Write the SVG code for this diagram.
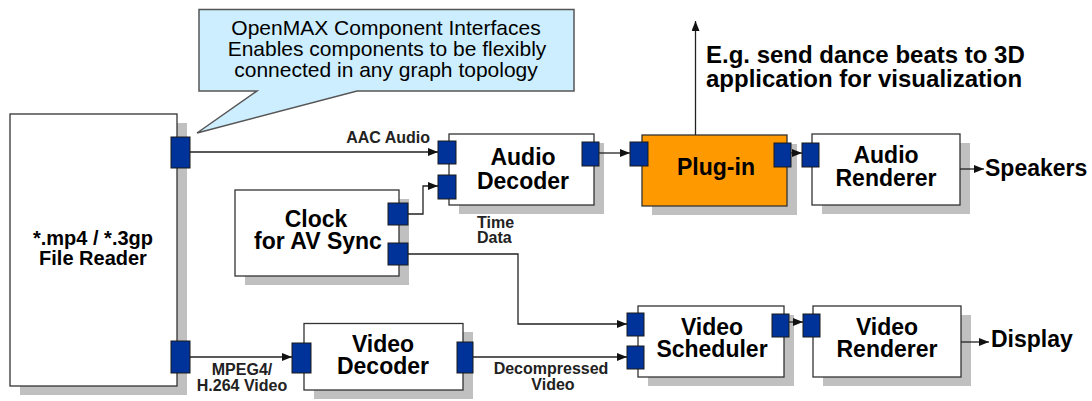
<svg xmlns="http://www.w3.org/2000/svg" width="1092" height="401" viewBox="0 0 1092 401">
<defs>
<marker id="ah" markerUnits="userSpaceOnUse" markerWidth="10" markerHeight="8" refX="10" refY="4" orient="auto">
<path d="M0,0 L10,4 L0,8 Z" fill="#111"/>
</marker>
</defs>
<style>
.box{fill:#fff;stroke:#333;stroke-width:1.3}
.sh{fill:#c0c0c0}
.port{fill:#003399;stroke:#1a1a1a;stroke-width:1}
.lbl{font-family:"Liberation Sans",Arial,sans-serif;font-weight:bold;font-size:23px;fill:#000;text-anchor:middle}
.big{font-family:"Liberation Sans",Arial,sans-serif;font-weight:bold;font-size:23px;fill:#000;text-anchor:start}
.sm{font-family:"Liberation Sans",Arial,sans-serif;font-weight:bold;font-size:16px;fill:#222}
.smc{font-family:"Liberation Sans",Arial,sans-serif;font-weight:bold;font-size:16px;fill:#222;text-anchor:middle}
.call{font-family:"Liberation Sans",Arial,sans-serif;font-size:21px;fill:#000;text-anchor:middle}
.cn{fill:none;stroke:#222;stroke-width:1.3}
</style>
<rect width="1092" height="401" fill="#fff"/>

<g id="callout">
<path d="M199,9.5 H574 V91 H357 L197,133 L257,91 H199 Z" fill="#cdeefe" stroke="#555" stroke-width="1.5"/>
<text class="call" x="386" y="35">OpenMAX Component Interfaces</text>
<text class="call" x="387" y="56">Enables components to be flexibly</text>
<text class="call" x="386" y="77">connected in any graph topology</text>
</g>

<g id="file-reader">
<rect class="sh" x="20" y="123" width="167" height="272"/>
<rect class="box" x="10" y="114" width="167" height="272"/>
<text class="lbl" style="font-size:20px" x="93" y="245">*.mp4 / *.3gp</text>
<text class="lbl" style="font-size:20px" x="93" y="265">File Reader</text>
<rect class="port" x="171" y="137" width="19" height="31"/>
<rect class="port" x="171" y="341" width="19" height="32"/>
</g>

<g id="audio-decoder">
<rect class="sh" x="459" y="143" width="145" height="71"/>
<rect class="box" x="449" y="134" width="145" height="71"/>
<text class="lbl" x="523" y="165">Audio</text>
<text class="lbl" x="523" y="189">Decoder</text>
<rect class="port" x="438" y="141" width="18" height="23"/>
<rect class="port" x="438" y="175" width="18" height="24"/>
<rect class="port" x="582" y="142" width="17" height="24"/>
</g>

<g id="plug-in">
<rect class="sh" x="652" y="144" width="145" height="71"/>
<rect class="box" x="642" y="135" width="145" height="71" style="fill:#ff9900"/>
<text class="lbl" x="716" y="175">Plug-in</text>
<rect class="port" x="630" y="142" width="18" height="24"/>
<rect class="port" x="774" y="143" width="17" height="24"/>
</g>

<g id="audio-renderer">
<rect class="sh" x="822" y="143" width="148" height="71"/>
<rect class="box" x="812" y="134" width="148" height="71"/>
<text class="lbl" x="886" y="163">Audio</text>
<text class="lbl" x="886" y="186">Renderer</text>
<rect class="port" x="802" y="143" width="17" height="24"/>
</g>

<g id="clock">
<rect class="sh" x="245" y="199" width="164" height="86"/>
<rect class="box" x="235" y="190" width="164" height="86"/>
<text class="lbl" x="316" y="227">Clock</text>
<text class="lbl" x="318" y="249">for AV Sync</text>
<rect class="port" x="388" y="203" width="20" height="22"/>
<rect class="port" x="388" y="243" width="20" height="22"/>
</g>

<g id="video-decoder">
<rect class="sh" x="314" y="332" width="159" height="67"/>
<rect class="box" x="304" y="323.5" width="159" height="66.5"/>
<text class="lbl" x="383" y="352">Video</text>
<text class="lbl" x="383" y="374">Decoder</text>
<rect class="port" x="292" y="343" width="19" height="30"/>
<rect class="port" x="457" y="342" width="16" height="31"/>
</g>

<g id="video-scheduler">
<rect class="sh" x="648" y="315" width="146" height="71"/>
<rect class="box" x="638" y="306" width="146" height="71"/>
<text class="lbl" x="712" y="335">Video</text>
<text class="lbl" x="712" y="357">Scheduler</text>
<rect class="port" x="627" y="313" width="17" height="23"/>
<rect class="port" x="627" y="346" width="17" height="23"/>
<rect class="port" x="772" y="314" width="17" height="23"/>
</g>

<g id="video-renderer">
<rect class="sh" x="823" y="315" width="148" height="71"/>
<rect class="box" x="813" y="306" width="148" height="71"/>
<text class="lbl" x="887" y="335">Video</text>
<text class="lbl" x="887" y="357">Renderer</text>
<rect class="port" x="803" y="314" width="17" height="23"/>
</g>

<g id="connectors">
<path class="cn" d="M190,152 H438" marker-end="url(#ah)"/>
<path class="cn" d="M599,153 H630" marker-end="url(#ah)"/>
<path class="cn" d="M791,153 H802" marker-end="url(#ah)"/>
<path class="cn" d="M960,169 H984" marker-end="url(#ah)"/>
<path class="cn" d="M695.5,135 V21" marker-end="url(#ah)"/>
<path class="cn" d="M408,214 H423 V186 H438" marker-end="url(#ah)"/>
<path class="cn" d="M408,254 H518 V324 H627" marker-end="url(#ah)"/>
<path class="cn" d="M190,357 H292" marker-end="url(#ah)"/>
<path class="cn" d="M473,357 H627" marker-end="url(#ah)"/>
<path class="cn" d="M789,322 H803" marker-end="url(#ah)"/>
<path class="cn" d="M961,342 H989" marker-end="url(#ah)"/>
<text class="sm" x="430" y="143" text-anchor="end" style="text-anchor:end">AAC Audio</text>
<text class="sm" x="477" y="228">Time</text>
<text class="sm" x="477" y="243">Data</text>
<text class="smc" x="242" y="375">MPEG4/</text>
<text class="smc" x="242" y="391">H.264 Video</text>
<text class="smc" x="551" y="374">Decompressed</text>
<text class="smc" x="553" y="390">Video</text>
<text class="big" x="706" y="63" style="font-size:24px">E.g. send dance beats to 3D</text>
<text class="big" x="706" y="87" style="font-size:24px">application for visualization</text>
<text class="big" x="985" y="176">Speakers</text>
<text class="big" x="991" y="347">Display</text>
</g>
</svg>
